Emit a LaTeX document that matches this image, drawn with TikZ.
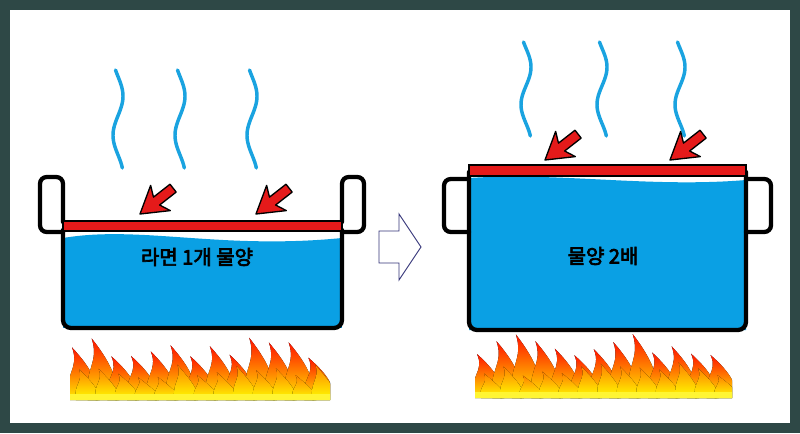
\documentclass[tikz,border=0pt]{standalone}
\usepackage{fontspec}
\newfontfamily\kr{Noto Sans CJK KR}[FakeBold=3.5]
\begin{document}
\begin{tikzpicture}[x=0.75pt,y=-0.75pt,
  potline/.style={line width=3.2pt,black,line join=round,line cap=round},
  steam/.style={line width=2.6pt,color=steamblue,line cap=round},
  lbl/.style={font=\kr\fontsize{15}{15}\selectfont,text=black}]
\definecolor{steamblue}{HTML}{1AA3E0}
\definecolor{water}{HTML}{0AA0E4}
\definecolor{frame}{HTML}{2E4846}
\definecolor{redbar}{HTML}{E51A1A}
\useasboundingbox (0,0) rectangle (800,433);
\fill[frame] (0,0) rectangle (800,433);
\fill[white] (10,10) rectangle (790,423);
% macros
\newcommand\steamline[3]{\draw[steam] plot[domain=0:1,samples=50] ({#1+5*sin(\x*450-30)},{#2+(#3-#2)*\x});}
\newcommand\redarrow[2]{\begin{scope}[shift={(#1,#2)},rotate=38]
 \draw[fill=redbar,line width=1pt,line join=round] (0,0)--(26,-16)--(21,-5)--(42,-5)--(42,5)--(21,5)--(26,16)--cycle;\end{scope}}
\newcommand\flames[3]{% x0, x1, base
 \pgfmathsetseed{#3}
 \begin{scope}
 \clip (#1-2,#3) rectangle (#2+2,#3-80);
 \foreach \i in {0,...,12}{
   \pgfmathsetmacro\w{(#2-#1)/13}
   \pgfmathsetmacro\xx{#1+\i*\w-4}
   \pgfmathsetmacro\h{42+rnd*22}
   \fill[top color=red!85!orange,bottom color=yellow!90!orange,middle color=orange]
     (\xx,#3) .. controls (\xx-4,#3-\h*0.5) and (\xx+12,#3-\h*0.6) .. (\xx+4,#3-\h)
     .. controls (\xx+26,#3-\h*0.55) and (\xx+\w+10,#3-\h*0.3) .. (\xx+\w+10,#3) -- cycle;}
 \foreach \i in {0,...,12}{
   \pgfmathsetmacro\w{(#2-#1)/13}
   \pgfmathsetmacro\xx{#1+\i*\w+4}
   \pgfmathsetmacro\h{22+rnd*14}
   \fill[top color=orange,bottom color=yellow]
     (\xx,#3) .. controls (\xx-3,#3-\h*0.5) and (\xx+8,#3-\h*0.6) .. (\xx+3,#3-\h)
     .. controls (\xx+18,#3-\h*0.5) and (\xx+\w+4,#3-\h*0.3) .. (\xx+\w+4,#3) -- cycle;}
 \fill[yellow!80!white] (#1-6,#3-6) rectangle (#2+4,#3);
 \end{scope}}
% ---------- left pot
\steamline{118}{70}{168}
\steamline{180}{70}{168}
\steamline{252}{70}{168}
\fill[water] (63,238) .. controls (140,225) and (220,250) .. (342,238) -- (342,320) -- (63,320) -- cycle;
\fill[water] (63,300) rectangle (342,328);
\draw[potline,rounded corners=6] (63,230) -- (63,328) -- (342,328) -- (342,230);
\draw[potline,rounded corners=5] (63,232) -- (40,232) -- (40,177) -- (63,177) -- (63,222);
\draw[potline,rounded corners=5] (342,222) -- (342,177) -- (364,177) -- (364,232) -- (342,232);
\draw[fill=redbar,line width=1.2pt] (63,221) rectangle (342,231);
\redarrow{140}{214}
\redarrow{256}{214}
\node[lbl] (t1) at (197,257) {라면 1개 물양};
\flames{72}{328}{400}
% ---------- middle arrow
\draw[fill=white,draw=black!55!blue!60!gray,line width=0.7pt,line join=miter]
  (379,231)--(399,231)--(399,214)--(421,247)--(399,280)--(399,263)--(379,263)--cycle;
% ---------- right pot
\steamline{526}{42}{136}
\steamline{602}{42}{136}
\steamline{680}{42}{136}
\fill[water] (469,178) .. controls (560,172) and (650,188) .. (746,180) -- (746,330) -- (469,330) -- cycle;
\draw[potline,rounded corners=6] (469,172) -- (469,330) -- (746,330) -- (746,172);
\draw[potline,rounded corners=5] (469,232) -- (444,232) -- (444,179) -- (469,179);
\draw[potline,rounded corners=5] (746,179) -- (771,179) -- (771,232) -- (746,232);
\draw[fill=redbar,line width=1.2pt] (469,165) rectangle (746,176);
\redarrow{545}{160}
\redarrow{670}{160}
\node[lbl] (t2) at (603,256) {물양 2배};
\flames{477}{730}{398}
\end{tikzpicture}
\end{document}
